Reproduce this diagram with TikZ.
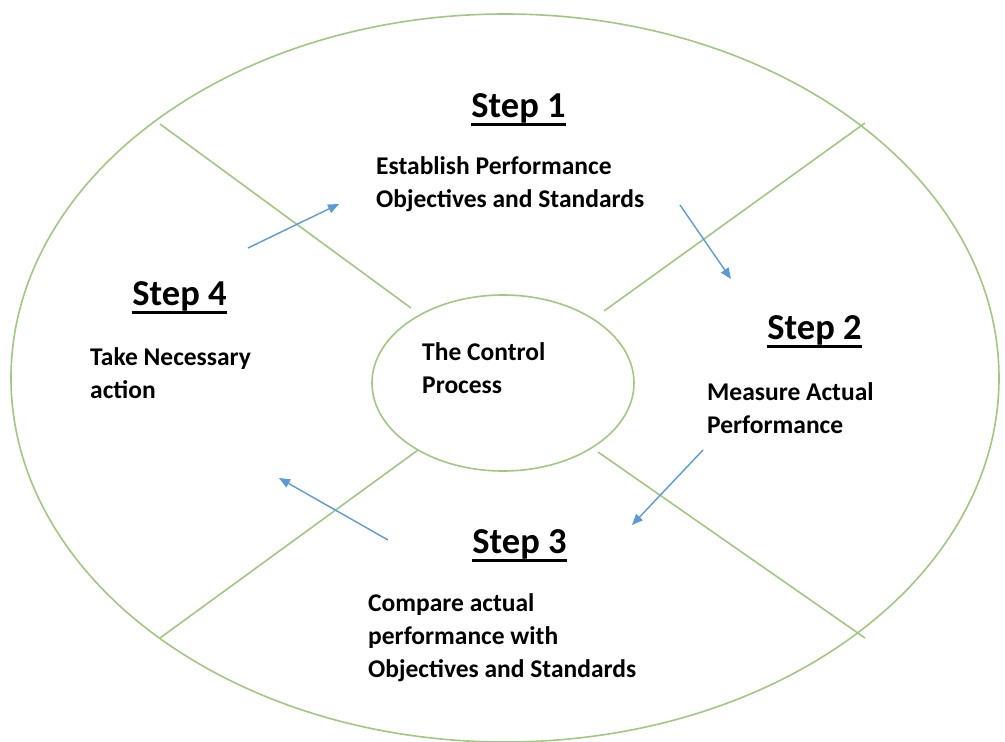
\documentclass[tikz,border=0pt]{standalone}
\usepackage{fontspec}
\setmainfont{Carlito}
\usetikzlibrary{arrows.meta,shapes.geometric}
\definecolor{ringgreen}{RGB}{160,200,130}
\definecolor{arrowblue}{RGB}{91,155,213}
\tikzset{
  ring/.style={draw=ringgreen, line width=1.6pt},
  flow/.style={draw=arrowblue, line width=1.4pt, -{Triangle[length=11pt,width=9pt]}},
  head/.style={font=\bfseries\fontsize{36.5}{40}\selectfont, inner sep=0pt, anchor=base},
  uline/.style={line width=2.6pt, black},
  body/.style={font=\bfseries\fontsize{25.5}{33}\selectfont, inner sep=0pt, anchor=base west, align=left},
}
\begin{document}
\begin{tikzpicture}[x=1pt,y=-1pt]
\useasboundingbox (0,0) rectangle (1005,742);
\fill[white] (0,0) rectangle (1005,742);
% outer ring
\draw[ring] (505,378) ellipse [x radius=494, y radius=364];
% divider lines
\coordinate (tlo) at (160,124); \coordinate (tli) at (411,308);
\coordinate (tro) at (865,123); \coordinate (tri) at (604,311);
\coordinate (blo) at (160,638); \coordinate (bli) at (418,450);
\coordinate (bro) at (865,638); \coordinate (bri) at (598,452);
\draw[ring] (tlo) -- (tli);
\draw[ring] (tro) -- (tri);
\draw[ring] (blo) -- (bli);
\draw[ring] (bro) -- (bri);
% centre ellipse
\node[ellipse, draw=ringgreen, line width=1.6pt, fill=white, minimum width=262pt, minimum height=176pt, inner sep=0pt] (ctr) at (503,383) {};
\node[body] (ctrt) at (422,393) {The Control\\Process};
% steps
\node[head] (s1) at (518.5,117) {Step 1};
\node[head] (s2) at (814.5,339) {Step 2};
\node[head] (s3) at (519.5,553) {Step 3};
\node[head] (s4) at (179.5,305) {Step 4};
\foreach \s in {s1,s2,s3,s4}
  \draw[uline] ([yshift=-1.3pt]\s.south west) -- ([yshift=-1.3pt]\s.south east);
\node[body] (t1) at (376,207) {Establish Performance\\Objectives and Standards};
\node[body] (t2) at (707,433) {Measure Actual\\Performance};
\node[body] (t3) at (368,677) {Compare actual\\performance with\\Objectives and Standards};
\node[body] (t4) at (90,398) {Take Necessary\\action};
% arrows
\coordinate (a1s) at (248,248); \coordinate (a1e) at (339,204);
\coordinate (a2s) at (680,205); \coordinate (a2e) at (731,279);
\coordinate (a3s) at (703,450); \coordinate (a3e) at (632,525);
\coordinate (a4s) at (388,540); \coordinate (a4e) at (279,478);
\draw[flow] (a1s) -- (a1e);
\draw[flow] (a2s) -- (a2e);
\draw[flow] (a3s) -- (a3e);
\draw[flow] (a4s) -- (a4e);
\end{tikzpicture}
\end{document}
